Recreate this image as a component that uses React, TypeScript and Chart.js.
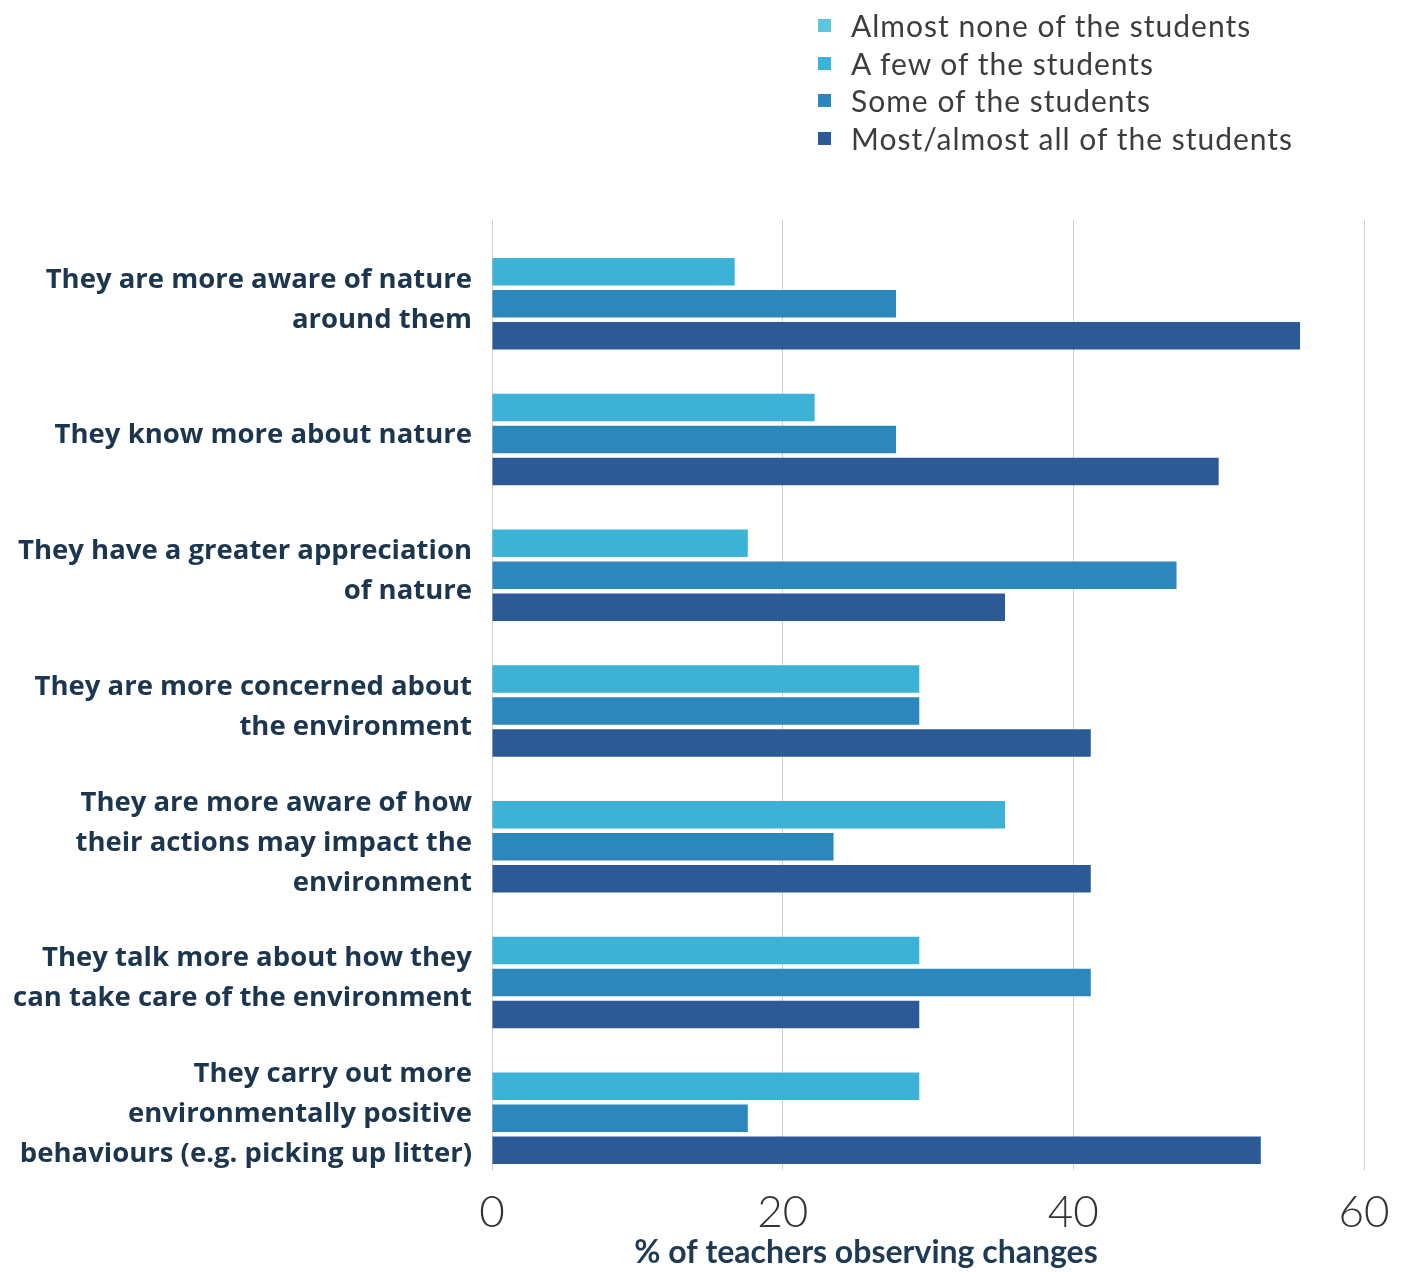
import React, { useEffect, useRef } from "react";
import { Chart, registerables } from "chart.js";

Chart.register(...registerables);

const categories: (string | string[])[] = [
  ["They are more aware of nature", "around them"],
  "They know more about nature",
  ["They have a greater appreciation", "of nature"],
  ["They are more concerned about", "the environment"],
  ["They are more aware of how", "their actions may impact the", "environment"],
  ["They talk more about how they", "can take care of the environment"],
  ["They carry out more", "environmentally positive", "behaviours (e.g. picking up litter)"],
];

const seriesLabels = [
  "Almost none of the students",
  "A few of the students",
  "Some of the students",
  "Most/almost all of the students",
];

const almostNone = [0, 0, 0, 0, 0, 0, 0];
const aFew = [16.7, 22.2, 17.6, 29.4, 35.3, 29.4, 29.4];
const some = [27.8, 27.8, 47.1, 29.4, 23.5, 41.2, 17.6];
const most = [55.6, 50.0, 35.3, 41.2, 41.2, 29.4, 52.9];

const xTicks = [0, 20, 40, 60];
const xTitle = "% of teachers observing changes";

const colors = ["#5cc6de", "#3bb2d6", "#2b87bc", "#2b5a97"];

export default function App() {
  const ref = useRef<HTMLCanvasElement | null>(null);

  useEffect(() => {
    document.body.style.margin = "0";
    const canvas = ref.current;
    if (!canvas) return;
    const titlePlugin = {
      id: "xTitlePlugin",
      afterDraw(chart: any) {
        const ctx = chart.ctx;
        ctx.save();
        ctx.font = "bold 32px Lato";
        ctx.fillStyle = "#1f3a55";
        ctx.textAlign = "center";
        ctx.textBaseline = "middle";
        ctx.fillText(xTitle, 866, 1253);
        ctx.restore();
      },
    };
    const seriesData = [almostNone, aFew, some, most];
    const chart = new Chart(canvas, {
      type: "bar",
      data: {
        labels: categories,
        datasets: seriesLabels.map((label, i) => ({
          label,
          data: seriesData[i],
          backgroundColor: colors[i],
          borderWidth: 0,
          categoryPercentage: 0.943,
          barPercentage: 0.86,
        })),
      },
      options: {
        indexAxis: "y",
        animation: false,
        responsive: false,
        maintainAspectRatio: false,
        layout: { padding: { top: 220, right: 43, left: 0, bottom: 0 } },
        plugins: {
          legend: { display: false },
          tooltip: { enabled: false },
        },
        scales: {
          x: {
            min: 0,
            max: 60,
            afterBuildTicks: (scale: any) => {
              scale.ticks = xTicks.map((v) => ({ value: v }));
            },
            afterFit: (scale: any) => {
              scale.height = 102;
            },
            grid: { color: "#cfcfd4", lineWidth: 1, drawTicks: false },
            border: { display: false },
            ticks: {
              padding: 16,
              color: "#333333",
              font: { family: "Lato", size: 44, weight: "300" as any },
            },
          },
          y: {
            afterFit: (scale: any) => {
              scale.width = 492;
            },
            grid: { display: false, drawTicks: false },
            border: { display: true, color: "#cfcfd4", width: 1 },
            ticks: {
              padding: 20,
              labelOffset: 12,
              color: "#1c3650",
              font: { family: "Open Sans", size: 27.5, weight: "bold", lineHeight: 1.455 },
            },
          },
        },
      },
      plugins: [titlePlugin],
    });
    return () => chart.destroy();
  }, []);

  return (
    <div style={{ position: "relative", width: 1407, height: 1272 }}>
      <canvas ref={ref} width={1407} height={1272} style={{ display: "block" }} />
      <div
        style={{
          position: "absolute",
          left: 818,
          top: 7,
          fontFamily: "Lato",
          fontSize: 30,
          letterSpacing: "1px",
          color: "#3d3d3d",
          lineHeight: "37.5px",
        }}
      >
        {seriesLabels.map((l, i) => (
          <div key={l} style={{ display: "flex", alignItems: "center" }}>
            <span
              style={{
                display: "inline-block",
                width: 13,
                height: 13,
                background: colors[i],
                marginRight: 20,
              }}
            />
            <span>{l}</span>
          </div>
        ))}
      </div>
    </div>
  );
}
